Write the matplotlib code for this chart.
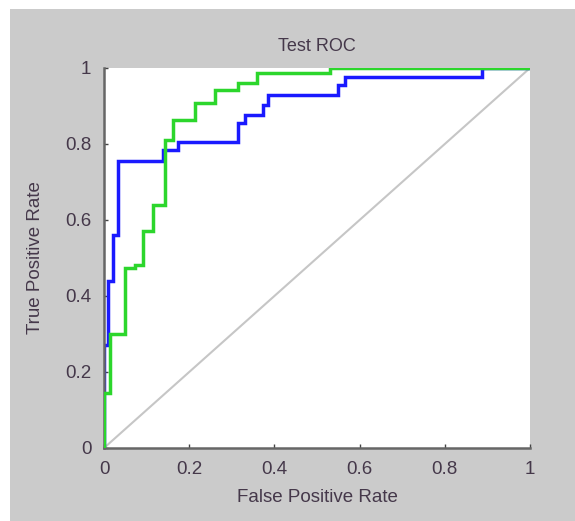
import matplotlib
matplotlib.use("Agg")
import matplotlib.pyplot as plt
from matplotlib.patches import Rectangle

# ROC operating points (top-left corners of each step)
fpr_blue = [0.0, 0.0, 0.010, 0.020, 0.033, 0.139, 0.173, 0.315, 0.330, 0.373, 0.385, 0.550, 0.566, 0.887, 1.0]
tpr_blue = [0.0, 0.270, 0.440, 0.560, 0.756, 0.784, 0.805, 0.855, 0.876, 0.902, 0.930, 0.955, 0.976, 1.0, 1.0]

fpr_green = [0.0, 0.0, 0.014, 0.050, 0.073, 0.092, 0.115, 0.143, 0.162, 0.213, 0.260, 0.315, 0.360, 0.530, 1.0]
tpr_green = [0.0, 0.145, 0.300, 0.474, 0.482, 0.570, 0.640, 0.810, 0.863, 0.908, 0.943, 0.960, 0.987, 1.0, 1.0]

ticks = [0, 0.2, 0.4, 0.6, 0.8, 1]
tick_labels = ["0", "0.2", "0.4", "0.6", "0.8", "1"]

txt_col = "#45384a"
bg_col = "#cbcbcb"

plt.rcParams['font.family'] = ['Liberation Sans', 'DejaVu Sans']

fig = plt.figure(figsize=(5.75, 5.21), dpi=100)
fig.patch.set_facecolor("white")
# gray MATLAB figure background, thin white strip top/left
fig.patches.append(Rectangle((10/575, 0), 1 - 10/575, 1 - 9/521, transform=fig.transFigure,
                             facecolor=bg_col, edgecolor="none", zorder=-10))

ax = fig.add_axes([104/575, 1 - 448/521, 426/575, 380/521])
ax.set_facecolor("white")

ax.plot([0, 1], [0, 1], color="#c6c6c6", lw=1.5, zorder=1)
ax.plot(fpr_blue, tpr_blue, drawstyle="steps-post", color="#1a1aff", lw=2.5, zorder=2, solid_joinstyle="miter")
ax.plot(fpr_green, tpr_green, drawstyle="steps-post", color="#2cd62c", lw=2.5, zorder=3, solid_joinstyle="miter")

ax.set_xlim(0, 1)
ax.set_ylim(0, 1)
ax.set_xticks(ticks)
ax.set_yticks(ticks)
ax.set_xticklabels(tick_labels)
ax.set_yticklabels(tick_labels)

for s in ["top", "right"]:
    ax.spines[s].set_visible(False)
for s in ["left", "bottom"]:
    ax.spines[s].set_color("#666666")
    ax.spines[s].set_linewidth(1.8)

ax.tick_params(direction="in", length=3, width=1, color="#444444",
               labelsize=13.5, labelcolor=txt_col, pad=9)

ax.set_title("Test ROC", fontsize=13, color=txt_col, pad=12)
ax.set_xlabel("False Positive Rate", fontsize=13.5, color=txt_col, labelpad=8)
ax.set_ylabel("True Positive Rate", fontsize=13.5, color=txt_col, labelpad=15)

fig.savefig("out.png", dpi=100, facecolor=fig.get_facecolor())
